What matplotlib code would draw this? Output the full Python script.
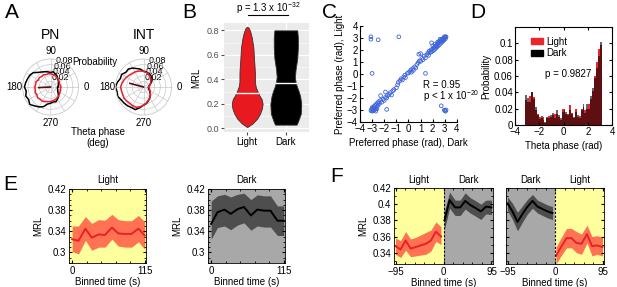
import numpy as np
import matplotlib
matplotlib.use('Agg')
import matplotlib.pyplot as plt
from matplotlib.ticker import AutoMinorLocator, MultipleLocator
from matplotlib.patches import Patch
import matplotlib.transforms as mtransforms

plt.rcParams['font.family'] = ['Liberation Sans', 'DejaVu Sans']
plt.rcParams['font.size'] = 7
plt.rcParams['mathtext.fontset'] = 'custom'
plt.rcParams['mathtext.rm'] = 'Liberation Sans'

# ---------------- DATA ----------------
# Panel A: phase distributions (probability per 10 deg bin)
theta_deg = [0, 10, 20, 30, 40, 50, 60, 70, 80, 90, 100, 110, 120, 130, 140, 150, 160, 170,
             180, 190, 200, 210, 220, 230, 240, 250, 260, 270, 280, 290, 300, 310, 320, 330, 340, 350]
pn_dark = [0.026, 0.028, 0.030, 0.033, 0.036, 0.040, 0.046, 0.050, 0.055, 0.052, 0.055, 0.058,
           0.062, 0.068, 0.080, 0.085, 0.087, 0.090, 0.093, 0.088, 0.094, 0.090, 0.097, 0.088,
           0.082, 0.075, 0.062, 0.058, 0.054, 0.056, 0.050, 0.045, 0.036, 0.030, 0.028, 0.025]
pn_light = [0.036, 0.035, 0.034, 0.036, 0.038, 0.040, 0.042, 0.045, 0.046, 0.047, 0.048, 0.047,
            0.050, 0.049, 0.052, 0.050, 0.055, 0.054, 0.056, 0.055, 0.058, 0.056, 0.060, 0.057,
            0.058, 0.055, 0.053, 0.052, 0.050, 0.048, 0.046, 0.044, 0.041, 0.039, 0.037, 0.036]
int_dark = [0.018, 0.020, 0.025, 0.032, 0.040, 0.045, 0.050, 0.052, 0.055, 0.056, 0.065, 0.070,
            0.078, 0.084, 0.082, 0.090, 0.088, 0.095, 0.100, 0.096, 0.098, 0.092, 0.090, 0.088,
            0.085, 0.086, 0.075, 0.065, 0.060, 0.052, 0.045, 0.038, 0.030, 0.025, 0.020, 0.018]
int_light = [0.020, 0.022, 0.026, 0.030, 0.034, 0.040, 0.045, 0.050, 0.053, 0.056, 0.058, 0.060,
             0.062, 0.063, 0.066, 0.070, 0.074, 0.078, 0.082, 0.080, 0.079, 0.080, 0.078, 0.076,
             0.077, 0.077, 0.072, 0.065, 0.058, 0.050, 0.044, 0.038, 0.032, 0.027, 0.023, 0.021]
pn_mean_angle, pn_mean_len = 183, 0.042
int_mean_angle, int_mean_len = 165, 0.05

# Panel B: violin profiles (MRL level, relative half width)
light_vy = [0.01, 0.04, 0.08, 0.12, 0.16, 0.20, 0.24, 0.27, 0.30, 0.34, 0.38, 0.45, 0.50, 0.57, 0.66, 0.74, 0.79, 0.82, 0.83]
light_vw = [0.0, 0.35, 0.65, 0.83, 0.95, 1.0, 0.93, 0.78, 0.67, 0.55, 0.50, 0.50, 0.48, 0.44, 0.40, 0.30, 0.20, 0.10, 0.0]
dark_vy = [0.03, 0.06, 0.12, 0.20, 0.26, 0.30, 0.34, 0.38, 0.42, 0.48, 0.57, 0.66, 0.74, 0.80]
dark_vw = [0.70, 0.80, 0.97, 1.0, 0.93, 0.84, 0.72, 0.63, 0.59, 0.63, 0.74, 0.78, 0.78, 0.74]
median_light, median_dark = 0.29, 0.37
violin_labels = ['Light', 'Dark']

# Panel C: preferred phases
pref_dark = [-3.1, -3.05, -3.0, -2.95, -2.9, -2.85, -2.8, -2.75, -2.7, -2.65, -2.6, -2.55, -2.5, -2.45,
             -2.4, -2.3, -2.2, -2.1, -2.0, -1.9, -1.8, -1.75, -1.6, -1.5, -1.4, -1.3, -1.2, -1.0,
             -0.9, -0.85, -0.7, -0.6, -0.5, -0.4, -0.3, -0.25, -0.1, 0.0, 0.1, 0.2, 0.25, 0.35,
             0.4, 0.5, 0.6, 0.7, 0.8, 0.9, 1.0, 1.1, 1.2, 1.3, 1.4, 1.5, 1.6, 1.65, 1.7, 1.8,
             1.85, 1.9, 2.0, 2.05, 2.1, 2.15, 2.2, 2.25, 2.3, 2.35, 2.4, 2.45, 2.5, 2.55, 2.6,
             2.65, 2.7, 2.75, 2.8, 2.85, 2.9, 2.95, 3.0, 3.05, 3.1, 2.95, 2.6, 2.4, 2.2, 2.0,
             1.0, 0.85, 1.9, -1.9, -2.3, -3.0, -2.8, -2.6, -2.9, 3.05, 2.9, 2.7, 2.5,
             -3.1, -3.1, -2.5, -0.8, -3.0, 1.4, 2.7, 2.95, 3.0, 3.05, 3.1, -1.8, -2.7]
pref_light = [-3.05, -2.95, -3.1, -2.85, -2.95, -2.7, -2.8, -2.6, -2.9, -2.5, -2.7, -2.4, -2.6, -2.3,
              -2.45, -2.2, -2.35, -2.1, -2.2, -1.95, -2.0, -1.8, -1.7, -1.55, -1.75, -1.4, -1.3, -1.15,
              -0.9, -0.7, -0.55, -0.4, -0.5, -0.25, -0.1, -0.3, 0.05, 0.1, 0.2, 0.35, 0.15, 0.45,
              0.3, 0.6, 0.5, 0.8, 0.95, 1.1, 1.05, 1.3, 1.2, 1.5, 1.35, 1.6, 1.75, 1.55, 1.9, 1.8,
              2.0, 1.85, 2.1, 1.95, 2.2, 2.05, 2.3, 2.15, 2.4, 2.25, 2.5, 2.35, 2.6, 2.45, 2.7,
              2.55, 2.8, 2.65, 2.9, 2.75, 3.0, 2.85, 3.05, 2.95, 3.1, 3.1, 2.9, 2.65, 2.5, 2.35,
              1.7, 1.65, 2.6, -1.5, -1.8, -2.8, -3.0, -2.9, -3.05, 3.1, 2.95, 2.85, 2.7,
              3.1, 2.9, 2.85, 3.1, 0.05, 0.05, -2.65, -3.0, -3.05, -3.1, -3.0, -2.95, -3.1]

# Panel D: phase histogram (40 bins from -pi to pi)
hist_light = [0.030, 0.028, 0.036, 0.040, 0.034, 0.018, 0.014, 0.010, 0.008, 0.010, 0.002, 0.008,
              0.011, 0.010, 0.012, 0.014, 0.013, 0.010, 0.006, 0.020, 0.018, 0.013, 0.014, 0.025,
              0.015, 0.008, 0.019, 0.010, 0.011, 0.018, 0.022, 0.018, 0.020, 0.026, 0.032, 0.042,
              0.060, 0.077, 0.093, 0.098]
hist_dark = [0.037, 0.033, 0.028, 0.041, 0.032, 0.022, 0.012, 0.007, 0.011, 0.006, 0.004, 0.010,
             0.008, 0.012, 0.015, 0.009, 0.018, 0.012, 0.008, 0.016, 0.020, 0.016, 0.012, 0.018,
             0.014, 0.010, 0.016, 0.012, 0.008, 0.020, 0.026, 0.015, 0.026, 0.020, 0.035, 0.045,
             0.058, 0.070, 0.085, 0.102]

# Panel E: MRL over binned time
time_e = [0, 10, 21, 31, 42, 52, 63, 73, 84, 94, 105, 115]
e_light = [0.325, 0.322, 0.345, 0.328, 0.334, 0.333, 0.347, 0.336, 0.335, 0.335, 0.345, 0.332]
e_light_hi = [0.350, 0.350, 0.368, 0.355, 0.362, 0.361, 0.372, 0.362, 0.360, 0.360, 0.370, 0.358]
e_light_lo = [0.302, 0.297, 0.323, 0.304, 0.310, 0.310, 0.325, 0.312, 0.310, 0.310, 0.320, 0.306]
e_dark = [0.354, 0.376, 0.381, 0.373, 0.382, 0.386, 0.370, 0.381, 0.379, 0.379, 0.360, 0.360]
e_dark_hi = [0.397, 0.407, 0.410, 0.405, 0.410, 0.412, 0.400, 0.409, 0.407, 0.407, 0.388, 0.388]
e_dark_lo = [0.325, 0.347, 0.350, 0.343, 0.352, 0.356, 0.342, 0.350, 0.348, 0.348, 0.332, 0.332]

# Panel F: transitions
f_pre = [-95, -85, -75, -65, -55, -45, -35, -25, -15, -5]
f_post = [2, 12, 23, 33, 43, 53, 64, 74, 84, 95]
f1_light = [0.348, 0.344, 0.355, 0.345, 0.347, 0.349, 0.351, 0.355, 0.366, 0.360]
f1_light_hi = [0.358, 0.355, 0.366, 0.357, 0.359, 0.362, 0.365, 0.368, 0.378, 0.372]
f1_light_lo = [0.338, 0.334, 0.343, 0.335, 0.336, 0.337, 0.338, 0.342, 0.354, 0.350]
f1_dark = [0.380, 0.405, 0.396, 0.396, 0.404, 0.399, 0.395, 0.391, 0.397, 0.396]
f1_dark_hi = [0.391, 0.415, 0.405, 0.405, 0.414, 0.408, 0.404, 0.400, 0.405, 0.405]
f1_dark_lo = [0.369, 0.395, 0.386, 0.386, 0.394, 0.389, 0.385, 0.381, 0.388, 0.387]
f2_dark = [0.401, 0.391, 0.378, 0.388, 0.397, 0.404, 0.397, 0.394, 0.391, 0.389]
f2_dark_hi = [0.409, 0.401, 0.390, 0.398, 0.406, 0.412, 0.405, 0.402, 0.399, 0.397]
f2_dark_lo = [0.392, 0.381, 0.367, 0.378, 0.388, 0.395, 0.389, 0.386, 0.383, 0.381]
f2_light = [0.336, 0.347, 0.358, 0.358, 0.352, 0.351, 0.363, 0.348, 0.349, 0.347]
f2_light_hi = [0.347, 0.358, 0.370, 0.370, 0.366, 0.363, 0.374, 0.360, 0.361, 0.359]
f2_light_lo = [0.326, 0.336, 0.346, 0.346, 0.340, 0.338, 0.352, 0.336, 0.338, 0.336]

# ---------------- STYLE ----------------
RED = '#e8202a'
BAND_RED = '#ff7352'
YELLOW = '#ffff9e'
GRAY_BG = '#a8a8a8'
BAND_DARK = '#4e4e4e'

W, H = 617, 287
fig = plt.figure(figsize=(W / 100, H / 100), dpi=100)


def px_axes(l, t, r, b, **kw):
    return fig.add_axes([l / W, 1 - b / H, (r - l) / W, (b - t) / H], **kw)


def ftext(x, y, s, **kw):
    return fig.text(x / W, 1 - y / H, s, **kw)


# Panel letters
for lab, (x, y) in {'A': (12, 13), 'B': (189, 12), 'C': (330, 12), 'D': (478, 12),
                    'E': (10, 184), 'F': (337, 176)}.items():
    ftext(x, y, lab, fontsize=15, ha='center', va='center')

# ---------------- Panel A ----------------
th = np.deg2rad(theta_deg + [theta_deg[0]])
for (cx, title, dark, light, ma, ml) in [(50.5, 'PN', pn_dark, pn_light, pn_mean_angle, pn_mean_len),
                                         (143.5, 'INT', int_dark, int_light, int_mean_angle, int_mean_len)]:
    r = 28
    ax = px_axes(cx - r, 87 - r, cx + r, 87 + r, projection='polar')
    ax.plot(th, dark + [dark[0]], color='black', lw=1.1)
    ax.plot(th, light + [light[0]], color=RED, lw=1.1)
    ax.plot([0, np.deg2rad(ma)], [0, ml], color='#5a0a0a', lw=1.2)
    ax.set_ylim(0, 0.1)
    ax.set_yticks([0.02, 0.04, 0.06, 0.08])
    ax.set_yticklabels(['0.02', '0.04', '0.06', '0.08'], fontsize=6.5)
    ax.set_rlabel_position(78)
    ax.set_thetagrids(range(0, 360, 30), ['0', '', '', '90', '', '', '180', '', '', '270', '', ''],
                      fontsize=7)
    ax.tick_params(axis='x', pad=-5)
    ax.grid(color='#c8c8c8', lw=0.5)
    ax.spines['polar'].set_color('#c8c8c8')
    ax.spines['polar'].set_linewidth(0.6)
    ftext(cx, 35, title, fontsize=10, ha='center', va='center')
ftext(95, 62, 'Probability', ha='center', va='center')
ftext(98, 132, 'Theta phase', ha='center', va='center')
ftext(98, 143, '(deg)', ha='center', va='center')

# ---------------- Panel B ----------------
axB = px_axes(224, 23, 309, 132)
axB.set_facecolor('#ebebeb')
half = 0.4
for i, (vy, vw, med, col) in enumerate([(light_vy, light_vw, median_light, '#e8191f'),
                                         (dark_vy, dark_vw, median_dark, 'black')]):
    xc = i + 1
    w = np.array(vw) * half
    axB.fill_betweenx(vy, xc - w, xc + w, facecolor=col, edgecolor='#333333', lw=0.6, zorder=3)
    mw = np.interp(med, vy, vw) * half
    axB.plot([xc - mw, xc + mw], [med, med], color='white', lw=1.0, zorder=4)
axB.set_xlim(0.4, 2.6)
axB.set_ylim(-0.03, 0.86)
axB.set_xticks([1, 2])
axB.set_xticklabels(violin_labels, fontsize=7)
axB.set_yticks([0, 0.2, 0.4, 0.6, 0.8])
axB.set_yticklabels(['0.0', '0.2', '0.4', '0.6', '0.8'], fontsize=6.5, color='#4d4d4d')
axB.yaxis.set_minor_locator(MultipleLocator(0.1))
axB.grid(True, which='major', color='white', lw=0.8, zorder=0)
axB.grid(True, which='minor', axis='y', color='white', lw=0.4, zorder=0)
axB.set_axisbelow(True)
for s in axB.spines.values():
    s.set_visible(False)
axB.tick_params(which='major', length=2, color='#4d4d4d', pad=1.5)
axB.tick_params(which='minor', length=0)
axB.set_ylabel('MRL', fontsize=7, labelpad=4)
ftext(268, 8, r'p = 1.3 x 10$^{-32}$', ha='center', va='center', fontsize=7)
fig.add_artist(plt.Line2D([248 / W, 288 / W], [1 - 15 / H, 1 - 15 / H], color='black', lw=0.8))

# ---------------- Panel C ----------------
axC = px_axes(360, 26, 457, 122)
axC.scatter(pref_dark, pref_light, s=7, facecolors='none', edgecolors='#3d64d8', lw=0.6)
axC.set_xlim(-4, 4)
axC.set_ylim(-4, 4)
axC.set_xticks(range(-4, 5))
axC.set_yticks(range(-4, 5))
axC.spines['top'].set_visible(False)
axC.spines['right'].set_visible(False)
axC.tick_params(direction='in', length=2, pad=1.5, labelsize=7)
axC.set_xlabel('Preferred phase (rad), Dark', fontsize=7, labelpad=3)
axC.set_ylabel('Preferred phase (rad), Light', fontsize=7, labelpad=1)
axC.text(1.2, -0.9, 'R = 0.95', fontsize=7, va='center')
axC.text(1.2, -1.8, r'p < 1 x 10$^{-20}$', fontsize=7, va='center')

# ---------------- Panel D ----------------
axD = px_axes(515, 27, 612, 125)
edges = np.linspace(-np.pi, np.pi, len(hist_light) + 1)
centers = (edges[:-1] + edges[1:]) / 2
bw = edges[1] - edges[0]
axD.bar(centers, hist_light, width=bw, color='#e8262b', edgecolor='none', label='Light')
axD.bar(centers, hist_dark, width=bw, color='black', alpha=0.6, edgecolor='none')
axD.set_xlim(-4, 4)
axD.set_ylim(0, 0.12)
axD.set_xticks([-4, -2, 0, 2, 4])
axD.set_yticks([0, 0.02, 0.04, 0.06, 0.08, 0.1])
axD.set_yticklabels(['0', '0.02', '0.04', '0.06', '0.08', '0.1'])
axD.tick_params(direction='in', length=2, pad=1.5, labelsize=7, top=True, right=True)
axD.set_xlabel('Theta phase (rad)', fontsize=7, labelpad=3)
axD.set_ylabel('Probability', fontsize=7, labelpad=2)
axD.legend(handles=[Patch(color='#e8262b', label='Light'), Patch(color='black', label='Dark')],
           loc='upper left', bbox_to_anchor=(0.16, 0.9), frameon=False, fontsize=7,
           handlelength=1.3, handleheight=0.6, labelspacing=0.15, handletextpad=0.3,
           borderpad=0, borderaxespad=0)
axD.text(-1.5, 0.0626, 'p = 0.9827', fontsize=7, va='center')


def matlab_frame(ax):
    ax.tick_params(which='both', direction='in', top=True, right=True, labelsize=7, pad=2)
    ax.tick_params(which='major', length=2.5)
    ax.tick_params(which='minor', length=1.2)
    ax.xaxis.set_minor_locator(AutoMinorLocator(5))
    ax.yaxis.set_minor_locator(AutoMinorLocator(4))
    for s in ax.spines.values():
        s.set_linewidth(0.6)


# ---------------- Panel E ----------------
for (l, r_, title, bg, y, lo, hi, lc, bc) in [
        (69, 146, 'Light', YELLOW, e_light, e_light_lo, e_light_hi, RED, BAND_RED),
        (208, 285, 'Dark', GRAY_BG, e_dark, e_dark_lo, e_dark_hi, 'black', BAND_DARK)]:
    ax = px_axes(l, 189, r_, 263)
    ax.set_facecolor(bg)
    ax.fill_between(time_e, lo, hi, color=bc, lw=0)
    ax.plot(time_e, y, color=lc, lw=1.4)
    ax.set_xlim(-5, 117)
    ax.set_ylim(0.28, 0.42)
    ax.set_xticks([0, 115])
    ax.set_yticks([0.3, 0.34, 0.38, 0.42])
    ax.set_yticklabels(['0.3', '0.34', '0.38', '0.42'])
    matlab_frame(ax)
    ax.set_title(title, fontsize=7, pad=4)
    ax.set_xlabel('Binned time (s)', fontsize=7, labelpad=1)
    ax.set_ylabel('MRL', fontsize=7, labelpad=3)

# ---------------- Panel F ----------------
for (l, r_, t_left, t_right, pre, pre_lo, pre_hi, pre_c, pre_b, pre_bg,
     post, post_lo, post_hi, post_c, post_b, post_bg, first) in [
        (394, 493, 'Light', 'Dark', f1_light, f1_light_lo, f1_light_hi, RED, BAND_RED, YELLOW,
         f1_dark, f1_dark_lo, f1_dark_hi, 'black', BAND_DARK, GRAY_BG, True),
        (506, 604, 'Dark', 'Light', f2_dark, f2_dark_lo, f2_dark_hi, 'black', BAND_DARK, GRAY_BG,
         f2_light, f2_light_lo, f2_light_hi, RED, BAND_RED, YELLOW, False)]:
    ax = px_axes(l, 188, r_, 264)
    ax.axvspan(-98, 0, color=pre_bg, lw=0)
    ax.axvspan(0, 98, color=post_bg, lw=0)
    ax.fill_between(f_pre, pre_lo, pre_hi, color=pre_b, lw=0)
    ax.plot(f_pre, pre, color=pre_c, lw=1.4)
    ax.fill_between(f_post, post_lo, post_hi, color=post_b, lw=0)
    ax.plot(f_post, post, color=post_c, lw=1.4)
    ax.axvline(0, color='black', lw=0.8, ls=(0, (2, 1.5)))
    ax.set_xlim(-98, 98)
    ax.set_ylim(0.326, 0.42)
    ax.set_xticks([-95, 0, 95])
    ax.set_yticks([0.34, 0.36, 0.38, 0.4, 0.42])
    ax.set_yticklabels(['0.34', '0.36', '0.38', '0.4', '0.42'])
    matlab_frame(ax)
    ax.yaxis.set_minor_locator(AutoMinorLocator(2))
    if not first:
        ax.tick_params(labelleft=False)
    else:
        ax.set_ylabel('MRL', fontsize=7, labelpad=3)
    ax.set_xlabel('Binned time (s)', fontsize=7, labelpad=1)
    tr = mtransforms.blended_transform_factory(ax.transData, ax.transAxes)
    ax.text(-49, 1.11, t_left, transform=tr, ha='center', va='center', fontsize=7)
    ax.text(49, 1.11, t_right, transform=tr, ha='center', va='center', fontsize=7)

fig.savefig('out.png', dpi=100)
